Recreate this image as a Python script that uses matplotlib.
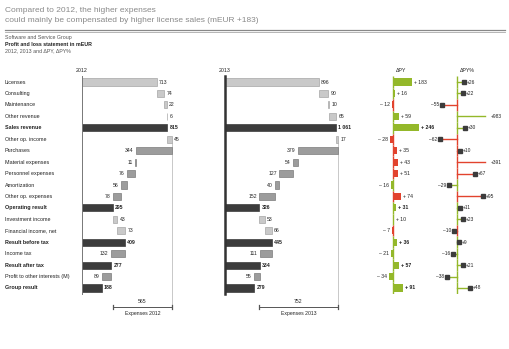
import matplotlib
matplotlib.use("Agg")
import matplotlib.pyplot as plt
import matplotlib.transforms as mtransforms
import numpy as np

plt.rcParams['font.family'] = ['Liberation Sans', 'DejaVu Sans']

# profit and loss items, mEUR
rows = ["Licenses", "Consulting", "Maintenance", "Other revenue", "Sales revenue",
        "Other op. income", "Purchases", "Material expenses", "Personnel expenses",
        "Amortization", "Other op. expenses", "Operating result", "Investment income",
        "Financial income, net", "Result before tax", "Income tax", "Result after tax",
        "Profit to other interests (M)", "Group result"]
# add = adds to running total, sub = subtracts, total = result row
kinds = ["add", "add", "add", "add", "total", "add", "sub", "sub", "sub", "sub", "sub",
         "total", "add", "add", "total", "sub", "total", "sub", "total"]
py_2012 = [713, 74, 22, 6, 815, 45, 344, 11, 76, 56, 78, 295, 43, 73, 409, 132, 277, 89, 188]
ac_2013 = [896, 90, 10, 65, 1061, 17, 379, 54, 127, 40, 152, 326, 53, 66, 445, 111, 334, 55, 279]
delta_py = [183, 16, -12, 59, 246, -28, 35, 43, 51, -16, 74, 31, 10, -7, 36, -21, 57, -34, 91]
delta_pct = [26, 22, -55, 983, 30, -62, 10, 391, 67, -29, 95, 11, 23, -10, 9, -16, 21, -38, 48]

GOOD = "#94b82a"
BAD = "#e2432e"
DARK = "#3c3c3c"
W, H = 510, 349
n = len(rows)
y = np.arange(n)
bar_h = 0.62


def fx(px):
    return px / W


def fy(px):
    return 1 - px / H


# rows span 82px .. 288px
row_top, row_bot = 82 - 5.7, 288 + 5.7
ax_bottom = fy(row_bot)
ax_height = (row_bot - row_top) / H

fig = plt.figure(figsize=(W / 100, H / 100), dpi=100)


def make_ax(left_px, width_px, xlim):
    ax = fig.add_axes([fx(left_px), ax_bottom, fx(width_px), ax_height])
    ax.set_xlim(*xlim)
    ax.set_ylim(n - 0.5, -0.5)
    ax.axis("off")
    return ax


def waterfall(ax, values, year, axis_lw, axis_color):
    run = 0
    starts = []
    for v, k in zip(values, kinds):
        if k == "total":
            starts.append(0)
            run = v
        elif k == "add":
            starts.append(run)
            run += v
        else:
            run -= v
            starts.append(run)
    colors = []
    edges = []
    for k in kinds:
        if k == "total":
            colors.append(DARK); edges.append(DARK)
        elif k == "add":
            colors.append("#c9c9c9"); edges.append("#a6a6a6")
        else:
            colors.append("#9c9c9c"); edges.append("#7c7c7c")
    ax.barh(y, values, left=starts, height=bar_h, color=colors, edgecolor=edges,
            linewidth=0.5, clip_on=False, zorder=2)
    for i, (v, s, k) in enumerate(zip(values, starts, kinds)):
        txt = f"{v:,}".replace(",", " ")
        weight = "bold" if k == "total" else "normal"
        if k == "sub":
            ax.text(s - 22, i, txt, ha="right", va="center", fontsize=3.7,
                    color="#222222", fontweight=weight)
        else:
            ax.text(s + v + 22, i, txt, ha="left", va="center", fontsize=3.7,
                    color="#222222", fontweight=weight)
    ax.plot([0, 0], [-0.55, n - 0.45], color=axis_color, lw=axis_lw, clip_on=False,
            zorder=3)

    # expenses bracket between operating result and total income
    i_op = rows.index("Operating result")
    i_inc = rows.index("Other op. income")
    total_income = starts[i_inc] + values[i_inc]
    op_result = values[i_op]
    expenses = sum(v for v, k in zip(values[:i_op], kinds[:i_op]) if k == "sub")
    yb = n + 0.7
    ax.plot([total_income, total_income], [i_inc + bar_h / 2, yb], color="#c8c8c8",
            lw=0.7, clip_on=False, zorder=1)
    ax.plot([op_result, total_income], [yb, yb], color="#555555", lw=0.7,
            clip_on=False)
    for xe in (op_result, total_income):
        ax.plot([xe, xe], [yb - 0.18, yb + 0.18], color="#555555", lw=0.9,
                clip_on=False)
    ax.text((op_result + total_income) / 2, yb - 0.3, str(expenses), ha="center",
            va="bottom", fontsize=3.7, color="#222222")
    ax.text((op_result + total_income) / 2, yb + 0.35, f"Expenses {year}",
            ha="center", va="top", fontsize=3.7, color="#222222")


scale = 0.1047  # px per mEUR
ax12 = make_ax(82, 1100 * scale, (0, 1100))
ax13 = make_ax(225, 1100 * scale, (0, 1100))
waterfall(ax12, py_2012, "2012", 0.7, "#777777")
waterfall(ax13, ac_2013, "2013", 1.8, "#333333")

# good / bad per row: higher expenses are bad
is_cost = [k == "sub" for k in kinds]
good = [(d > 0) != c for d, c in zip(delta_py, is_cost)]
row_colors = [GOOD if g else BAD for g in good]

# absolute variance
axd = make_ax(393 - 300 * scale, 600 * scale, (-300, 300))
axd.barh(y, delta_py, height=bar_h, color=row_colors, clip_on=False, zorder=2)
for i in range(n):
    axd.plot([0, 0], [i - 0.5, i + 0.5], color=row_colors[i], lw=1.0,
             solid_capstyle="butt", zorder=3)
for i, d in enumerate(delta_py):
    weight = "bold" if kinds[i] == "total" else "normal"
    if d > 0:
        axd.text(d + 20, i, f"+ {d}", ha="left", va="center", fontsize=3.7,
                 color="#222222", fontweight=weight)
    else:
        axd.text(d - 20, i, f"– {abs(d)}", ha="right", va="center", fontsize=3.7,
                 color="#222222", fontweight=weight)

# relative variance, pins clipped beyond the scale
pscale = 0.27
axp = make_ax(457 - 120 * pscale, 240 * pscale, (-120, 120))
limit = 100
for i in range(n):
    axp.plot([0, 0], [i - 0.5, i + 0.5], color=row_colors[i], lw=1.0,
             solid_capstyle="butt", zorder=1)
for i, p in enumerate(delta_pct):
    sign = "+" if p > 0 else "–"
    side = "left" if p > 0 else "right"
    if abs(p) > limit:
        end = np.sign(p) * (limit + 4)
        axp.plot([0, end], [i, i], color=row_colors[i], lw=1.0, zorder=2)
        axp.text(end + np.sign(p) * 22, i, f"{sign}{abs(p)}", ha=side,
                 va="center", fontsize=3.5, color="#222222")
    else:
        axp.plot([0, p], [i, i], color=row_colors[i], lw=1.0, zorder=2)
        axp.plot([p], [i], marker="s", markersize=3.2, color=DARK, zorder=3)
        axp.text(p + np.sign(p) * 10, i, f"{sign}{abs(p)}", ha=side,
                 va="center", fontsize=3.5, color="#222222")

# row labels
trans = mtransforms.blended_transform_factory(fig.transFigure, ax12.transData)
for i, (r, k) in enumerate(zip(rows, kinds)):
    ax12.text(fx(5), i, r, transform=trans, ha="left", va="center", fontsize=3.9,
              color="#222222", fontweight="bold" if k == "total" else "normal")

# column headers
fig.text(fx(82), fy(70), "2012", ha="center", va="center", fontsize=3.8, color="#222222")
fig.text(fx(225), fy(70), "2013", ha="center", va="center", fontsize=3.8, color="#222222")
fig.text(fx(396), fy(70), "ΔPY", ha="left", va="center", fontsize=3.8, color="#222222")
fig.text(fx(460), fy(70), "ΔPY%", ha="left", va="center", fontsize=3.8, color="#222222")

# title block
fig.text(fx(5), fy(10), "Compared to 2012, the higher expenses", ha="left", va="center",
         fontsize=6.0, color="#8a8a8a")
fig.text(fx(5), fy(21), "could mainly be compensated by higher license sales (mEUR +183)",
         ha="left", va="center", fontsize=6.0, color="#8a8a8a")
fig.add_artist(plt.Line2D([fx(5), fx(505)], [fy(29.5), fy(29.5)], color="#888888", lw=0.9))
fig.add_artist(plt.Line2D([fx(5), fx(505)], [fy(31.8), fy(31.8)], color="#aaaaaa", lw=0.6))
fig.text(fx(5), fy(38), "Software and Service Group", ha="left", va="center",
         fontsize=3.8, color="#555555")
fig.text(fx(5), fy(44.5), "Profit and loss statement in mEUR", ha="left", va="center",
         fontsize=3.8, color="#222222", fontweight="bold")
fig.text(fx(5), fy(51), "2012, 2013 and ΔPY, ΔPY%", ha="left", va="center",
         fontsize=3.8, color="#555555")

fig.savefig("out.png", dpi=100, facecolor="white")
